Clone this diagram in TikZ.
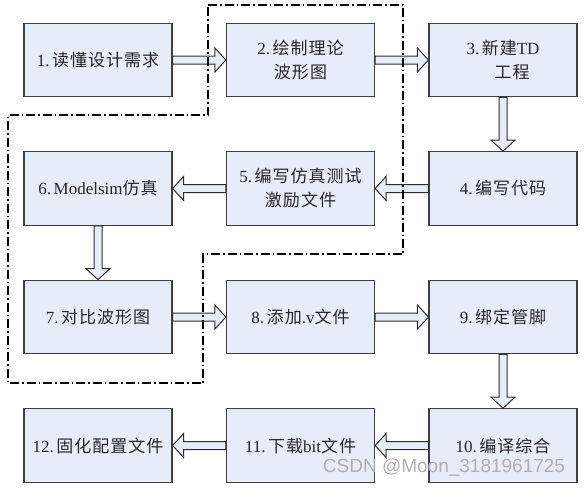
\documentclass[tikz,border=0pt]{standalone}
\usepackage{fontspec}
\setmainfont{Liberation Serif}
\newfontfamily\cjk[LetterSpace=6]{Noto Sans CJK SC}
\newfontfamily\wmfont{Liberation Sans}
\usetikzlibrary{calc}
\definecolor{boxfill}{RGB}{230,236,248}
\definecolor{boxline}{RGB}{64,64,64}
\definecolor{arrline}{RGB}{45,45,45}
\definecolor{wmgray}{RGB}{175,175,175}
\newcommand\dotsp{.\hspace{2.5pt}}
\newcommand\barrow[2]{%
  \draw[barr] ($(#1)!4pt!90:(#2)$) -- ($(#2)!11pt!(#1)!4pt!-90:(#1)$)
    -- ($(#2)!11pt!(#1)!12pt!-90:(#1)$) -- (#2)
    -- ($(#2)!11pt!(#1)!12pt!90:(#1)$) -- ($(#2)!11pt!(#1)!4pt!90:(#1)$)
    -- ($(#1)!4pt!-90:(#2)$) -- cycle;}
\begin{document}
\begin{tikzpicture}[x=1pt,y=-1pt,
  box/.style={draw=boxline, fill=boxfill, line width=1.2pt, minimum width=148pt,
    minimum height=73.5pt, inner sep=0pt, align=center,
    font=\fontsize{17}{24}\selectfont, text=black!85},
  barr/.style={draw=arrline, fill=boxfill, line width=1pt, line join=miter},
  region/.style={draw=black, line width=1.4pt, dash pattern=on 9pt off 3pt on 1.5pt off 3pt},
  wm/.style={font=\wmfont\fontsize{19}{22}\selectfont, text=wmgray, inner sep=0pt}]
\useasboundingbox (0,0) rectangle (585,487);
\node[box] (n1) at (98,60) {1\dotsp{\cjk 读懂设计需求}};
\node[box] (n2) at (300.5,60) {2\dotsp{\cjk 绘制理论}\\{\cjk 波形图}};
\node[box] (n3) at (503,60) {3\dotsp{\cjk 新建}TD\\\hspace*{18pt}{\cjk 工程}};
\node[box] (n4) at (503,188.5) {4\dotsp{\cjk 编写代码}};
\node[box] (n5) at (300.5,188.5) {5\dotsp{\cjk 编写仿真测试}\\{\cjk 激励文件}};
\node[box] (n6) at (98,188.5) {6\dotsp Modelsim{\cjk 仿真}};
\node[box] (n7) at (98,317) {7\dotsp{\cjk 对比波形图}};
\node[box] (n8) at (300.5,317) {8\dotsp{\cjk 添加}.v{\cjk 文件}};
\node[box] (n9) at (503,317) {9\dotsp{\cjk 绑定管脚}};
\node[box] (n10) at (503,445.5) {10\dotsp{\cjk 编译综合}};
\node[box] (n11) at (300.5,445.5) {11\dotsp{\cjk 下载}bit{\cjk 文件}};
\node[box] (n12) at (98,445.5) {12\dotsp{\cjk 固化配置文件}};
\barrow{n1.east}{n2.west}
\barrow{n2.east}{n3.west}
\barrow{n3.south}{n4.north}
\barrow{n4.west}{n5.east}
\barrow{n5.west}{n6.east}
\barrow{n6.south}{n7.north}
\barrow{n7.east}{n8.west}
\barrow{n8.east}{n9.west}
\barrow{n9.south}{n10.north}
\barrow{n10.west}{n11.east}
\barrow{n11.west}{n12.east}
\draw[region] (208,5) -- (403,5) -- (403,254) -- (203,254) -- (203,383)
  -- (8,383) -- (8,115) -- (208,115) -- cycle;
\node[wm] (wm) at (444,467) {CSDN @Moon\_3181961725};
\end{tikzpicture}
\end{document}
